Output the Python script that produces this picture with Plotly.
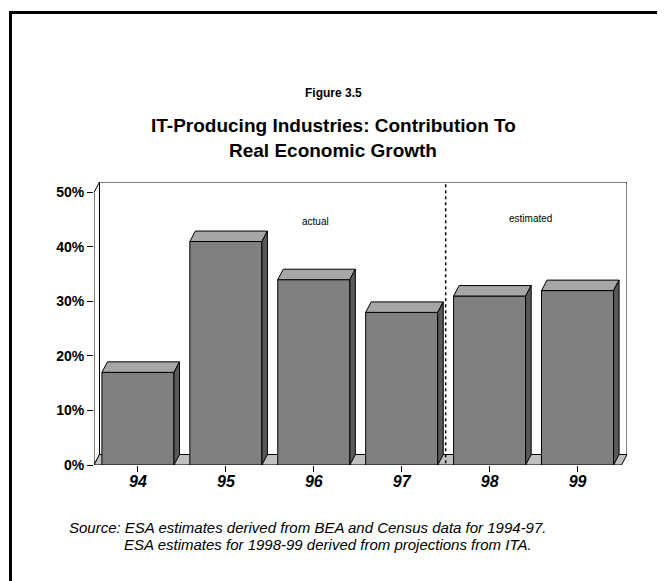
import plotly.graph_objects as go

# data
years = ['94', '95', '96', '97', '98', '99']
share = [17, 41, 34, 28, 31, 32]          # contribution to real growth, %
y_ticks = [0, 10, 20, 30, 40, 50]
split_after = 3                             # actual 94-97 / estimated 98-99

# page is 665x581 but the html body has an 8px margin, so the figure is 8px smaller
OFF = 8
W, H = 665, 581
L, R, T, B = 94, 38, 182, 116      # plot area edges, in page pixels
PW, PH = W - L - R, H - T - B

DX, DY = 0.0625, 1.92     # depth of the fake 3d look, in data units
BW = 0.82
FONT = 'Arial, Liberation Sans, sans-serif'

pos = list(range(len(years)))
x_lo, x_hi = -0.5, len(years) - 0.5
y_top = y_ticks[-1]


def px(x, y):
    # page pixel -> paper coords
    return (x - L) / PW, (H - B - y) / PH


fig = go.Figure()

# front faces
fig.add_trace(go.Bar(x=pos, y=share, width=BW,
                     marker=dict(color='#808080', line=dict(color='black', width=1)),
                     hoverinfo='skip'))

# top and side faces
for p, v in zip(pos, share):
    a, b = p - BW / 2, p + BW / 2
    fig.add_trace(go.Scatter(x=[a, b, b + DX, a + DX, a], y=[v, v, v + DY, v + DY, v],
                             mode='lines', fill='toself', fillcolor='#a6a6a6',
                             line=dict(color='black', width=1), hoverinfo='skip'))
    fig.add_trace(go.Scatter(x=[b, b + DX, b + DX, b, b], y=[0, DY, v + DY, v, 0],
                             mode='lines', fill='toself', fillcolor='#595959',
                             line=dict(color='black', width=1), hoverinfo='skip'))

shapes = [
    # left wall
    dict(type='path', layer='below',
         path=f'M {x_lo},0 L {x_lo},{y_top} L {x_lo + DX},{y_top + DY} L {x_lo + DX},{DY} Z',
         fillcolor='white', line=dict(color='black', width=1)),
    # back wall
    dict(type='rect', layer='below', x0=x_lo + DX, x1=x_hi + DX, y0=DY, y1=y_top + DY,
         fillcolor='white', line=dict(color='black', width=1)),
    # floor
    dict(type='path', layer='below',
         path=f'M {x_lo},0 L {x_hi},0 L {x_hi + DX},{DY} L {x_lo + DX},{DY} Z',
         fillcolor='#c0c0c0', line=dict(color='black', width=1)),
    # actual / estimated divider
    dict(type='line', layer='below', x0=split_after + 0.5, x1=split_after + 0.5,
         y0=-0.8, y1=y_top + DY - 0.4, line=dict(color='black', width=1.5, dash='dot')),
]

# outer frame
fx0, fy0 = px(10.5, 12.5)
fx1, fy1 = px(700, 620)
shapes.append(dict(type='rect', xref='paper', yref='paper', x0=fx0, x1=fx1, y0=fy1, y1=fy0,
                   line=dict(color='black', width=3)))

ann = []
for txt, x, y, size in [('<b>Figure 3.5</b>', 333, 93, 12),
                        ('<b>IT-Producing Industries: Contribution To</b>', 333, 126, 19),
                        ('<b>Real Economic Growth</b>', 333, 150, 19)]:
    ax, ay = px(x, y)
    ann.append(dict(text=txt, x=ax, y=ay, xref='paper', yref='paper', showarrow=False,
                    xanchor='center', yanchor='middle', font=dict(size=size, family=FONT, color='black')))

ann.append(dict(text='actual', x=2.017, y=44.7, showarrow=False,
                font=dict(size=10, family=FONT, color='black')))
ann.append(dict(text='estimated', x=4.466, y=45.2, showarrow=False,
                font=dict(size=10, family=FONT, color='black')))

for txt, x, y in [('Source: ESA estimates derived from BEA and Census data for 1994-97.', 67, 527),
                  ('ESA estimates for 1998-99 derived from projections from ITA.', 122, 544)]:
    ax, ay = px(x, y)
    ann.append(dict(text=txt, x=ax, y=ay, xref='paper', yref='paper', showarrow=False,
                    xanchor='left', yanchor='middle',
                    font=dict(size=15, family=FONT, color='black', style='italic')))

fig.update_layout(
    width=W - OFF, height=H - OFF,
    margin=dict(l=L - OFF, r=R, t=T - OFF, b=B, pad=0),
    paper_bgcolor='white', plot_bgcolor='white',
    showlegend=False, shapes=shapes, annotations=ann,
    xaxis=dict(range=[x_lo, x_hi + DX], tickvals=pos, ticktext=years,
               ticks='outside', ticklen=6, tickcolor='black', ticklabelstandoff=-4,
               showline=False, showgrid=False, zeroline=False,
               tickfont=dict(size=16, family=FONT, color='black', weight='bold', style='italic')),
    yaxis=dict(range=[0, y_top + DY], tickvals=y_ticks, ticktext=[f'{v}%' for v in y_ticks],
               ticks='outside', ticklen=6, tickcolor='black',
               showline=False, showgrid=False, zeroline=False,
               tickfont=dict(size=14, family=FONT, color='black', weight='bold')),
)

fig.write_html("out.html")
